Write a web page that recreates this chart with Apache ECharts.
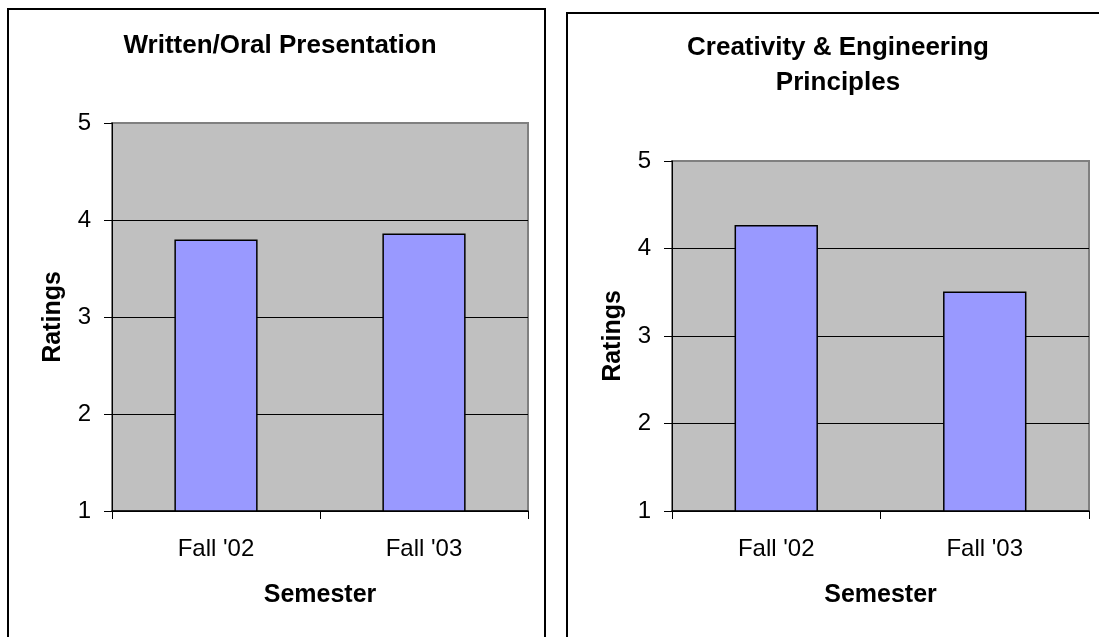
<!DOCTYPE html>
<html>
<head>
<meta charset="utf-8">
<script src="https://cdn.jsdelivr.net/npm/echarts@6/dist/echarts.min.js"></script>
<style>
html,body{margin:0;padding:0;background:#fff;overflow:hidden;}
#chart{width:1099px;height:637px;}
</style>
</head>
<body>
<div id="chart"></div>
<script>
const categories = ["Fall '02", "Fall '03"];
const writtenOral = [3.80, 3.86];
const creativity = [4.27, 3.51];
const yMin = 1, yMax = 5, yStep = 1;
const titleLeft = "Written/Oral Presentation";
const titleRight = "Creativity & Engineering\nPrinciples";
const xName = "Semester";
const yName = "Ratings";

const FONT = "'Liberation Sans', Arial, sans-serif";
const chart = echarts.init(document.getElementById('chart'), null, {renderer: 'canvas'});

function xAxisCfg(gi) {
  return {
    type: 'category', gridIndex: gi, data: categories,
    name: xName, nameLocation: 'middle', nameGap: 72,
    nameTextStyle: {fontFamily: FONT, fontSize: 25, fontWeight: 'bold', color: '#000'},
    axisLine: {show: true, lineStyle: {color: '#000', width: 1.5}},
    axisTick: {show: true, length: 8, alignWithLabel: false, lineStyle: {color: '#000', width: 1}},
    axisLabel: {margin: 26, fontFamily: FONT, fontSize: 24, color: '#000'},
    splitLine: {show: false}
  };
}
function yAxisCfg(gi) {
  return {
    type: 'value', gridIndex: gi, min: yMin, max: yMax, interval: yStep,
    name: yName, nameLocation: 'middle', nameGap: 46,
    nameTextStyle: {fontFamily: FONT, fontSize: 25, fontWeight: 'bold', color: '#000'},
    axisLine: {show: true, lineStyle: {color: '#000', width: 1}},
    axisTick: {show: true, length: 8, lineStyle: {color: '#000', width: 1}},
    axisLabel: {margin: 21, fontFamily: FONT, fontSize: 24, color: '#000'},
    splitLine: {show: true, lineStyle: {color: ['#000', '#000', '#000', '#000', '#808080'], width: 1}}
  };
}
function barCfg(gi, data) {
  return {
    type: 'bar', xAxisIndex: gi, yAxisIndex: gi, data: data,
    barWidth: '40%',
    itemStyle: {color: '#9999FF', borderColor: '#000', borderWidth: 1.5},
    silent: true, animation: false
  };
}

const option = {
  animation: false,
  backgroundColor: '#fff',
  graphic: [
    {type: 'rect', shape: {x: 8, y: 9, width: 537, height: 700}, style: {fill: 'none', stroke: '#000', lineWidth: 2}, silent: true},
    {type: 'rect', shape: {x: 567, y: 13, width: 540, height: 700}, style: {fill: 'none', stroke: '#000', lineWidth: 2}, silent: true}
  ],
  title: [
    {text: titleLeft, left: 280, top: 28, padding: 0, textAlign: 'center',
     textStyle: {fontFamily: FONT, fontSize: 26, fontWeight: 'bold', color: '#000', lineHeight: 35}},
    {text: titleRight, left: 838, top: 30, padding: 0, textAlign: 'center',
     textStyle: {fontFamily: FONT, fontSize: 26, fontWeight: 'bold', color: '#000', lineHeight: 35}}
  ],
  grid: [
    {left: 112, top: 123, width: 416, height: 388, show: true, backgroundColor: '#C0C0C0', borderColor: '#808080', borderWidth: 2, outerBoundsMode: 'none', containLabel: false},
    {left: 672, top: 161, width: 417, height: 350, show: true, backgroundColor: '#C0C0C0', borderColor: '#808080', borderWidth: 2, outerBoundsMode: 'none', containLabel: false}
  ],
  xAxis: [xAxisCfg(0), xAxisCfg(1)],
  yAxis: [yAxisCfg(0), yAxisCfg(1)],
  series: [barCfg(0, writtenOral), barCfg(1, creativity)]
};
chart.setOption(option);
</script>
</body>
</html>
